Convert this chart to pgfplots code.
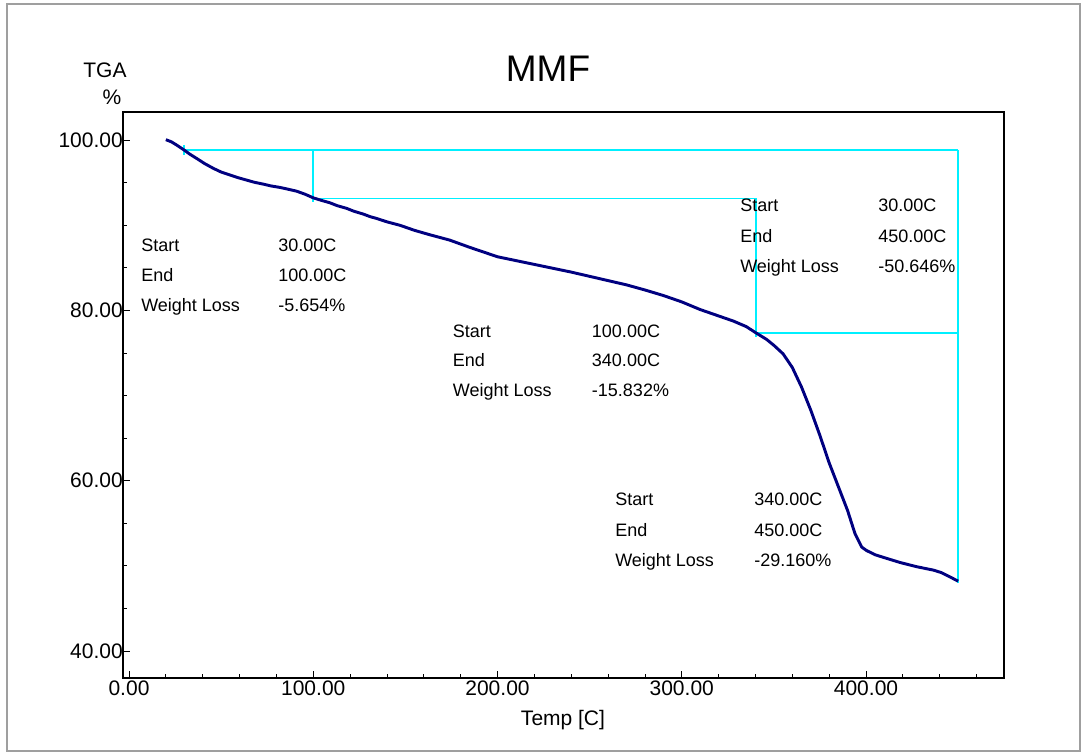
\documentclass[border=0pt]{standalone}
\usepackage{pgfplots}
\pgfplotsset{compat=1.18}
\usepackage{fontspec}
\setmainfont{Liberation Sans}
\definecolor{curve}{RGB}{0,0,128}
\definecolor{cyn}{RGB}{0,240,255}
\newcommand\fa{\fontsize{13.5}{16}\selectfont}
\newcommand\fb{\fontsize{15.75}{18}\selectfont}
\newcommand\ft{\fontsize{27.75}{32}\selectfont}
\begin{document}
\begin{tikzpicture}
\begin{scope}[x=0.75pt,y=-0.75pt]
\path[use as bounding box] (0,0) rectangle (1086,753);
\draw[gray!75, line width=1.5pt] (7,4) rectangle (1080,751);
\end{scope}
\begin{axis}[
  at={(92.25pt,-508.5pt)}, anchor=south west,
  scale only axis, width=660.75pt, height=424.5pt,
  xmin=-3.26, xmax=474.9, ymin=36.83, ymax=103.3,
  axis line style={black, line width=0.8pt},
  tick align=inside,
  xtick={0,100,200,300,400}, xticklabels={0.00,100.00,200.00,300.00,400.00},
  ytick={40,60,80,100}, yticklabels={40.00,60.00,80.00,100.00},
  minor xtick={20,40,...,460}, minor ytick={40,45,...,100},
  xtick pos=bottom, ytick pos=left,
  major tick length=5.25pt, minor tick length=3pt,
  tick style={black, line width=0.6pt},
  ticklabel style={font=\fb},
  yticklabel style={inner xsep=0pt},
  xticklabel style={inner ysep=2pt},
  clip=false,
]
\addplot[draw=cyn, line width=1pt] coordinates {(30,98.82) (450,98.82)};
\addplot[draw=cyn, line width=1.3pt] coordinates {(450,98.82) (450,47.99)};
\addplot[draw=cyn, line width=1.3pt] coordinates {(30,99.41) (30,98.24)};
\addplot[draw=cyn, line width=1.3pt] coordinates {(100,98.82) (100,92.76)};
\addplot[draw=cyn, line width=1pt] coordinates {(100,93.17) (340,93.17)};
\addplot[draw=cyn, line width=1.6pt] coordinates {(340.3,93.17) (340.3,76.87)};
\addplot[draw=cyn, line width=1pt] coordinates {(340,77.33) (450,77.33)};
\addplot[curve, line width=2.2pt, line join=round] coordinates {
(20.0,100.05) (23,99.8) (26,99.4) (30,98.82) (33,98.35) (36.7,97.85)
(41,97.25) (45.8,96.68) (50,96.25) (54.8,95.9) (59,95.6) (63.9,95.3)
(68,95.05) (72.9,94.83) (77,94.62) (82,94.44) (86,94.25) (91,94.0)
(95.5,93.65) (100,93.22) (104,92.95) (109,92.64) (113,92.3) (118.2,91.98)
(122,91.65) (127.2,91.31) (131,91.0) (134.4,90.8) (140,90.4) (147,90.0)
(155,89.4) (163,88.9) (174,88.26) (185,87.4) (200,86.3) (210,85.85)
(220,85.4) (230,84.95) (240,84.5) (250,84.0) (260,83.5) (270,83.0)
(280,82.4) (290,81.75) (300,81.0) (310,80.1) (320,79.35) (328,78.75)
(335,78.1) (340,77.4) (346,76.6) (350,75.9) (355,74.9) (360,73.3)
(365,71.0) (370,68.3) (375,65.3) (380,62.1) (385,59.3) (390,56.5)
(394,53.8) (397.7,52.2) (400.3,51.8) (405,51.3) (409.4,51.0)
(418.4,50.4) (427.5,49.9) (436.6,49.5) (441,49.2) (445.6,48.7) (450,48.2)
};
\end{axis}
\begin{scope}[x=0.75pt,y=-0.75pt]
\node[anchor=base, inner sep=0pt, font=\ft] at (548,81) {MMF};
\node[anchor=base, inner sep=0pt, font=\fb] at (105,77.5) {TGA};
\node[anchor=base, inner sep=0pt, font=\fb] at (112,104.5) {\%};
\node[anchor=base, inner sep=0pt, font=\fb] at (563,725.5) {Temp [C]};
% block 1
\node[anchor=base west, inner sep=0pt, font=\fa] at (141,251.5) {Start};
\node[anchor=base west, inner sep=0pt, font=\fa] at (141,281.5) {End};
\node[anchor=base west, inner sep=0pt, font=\fa] at (141,311.5) {Weight Loss};
\node[anchor=base west, inner sep=0pt, font=\fa] at (278,251.5) {30.00C};
\node[anchor=base west, inner sep=0pt, font=\fa] at (278,281.5) {100.00C};
\node[anchor=base west, inner sep=0pt, font=\fa] at (278,311.5) {-5.654\%};
% block 2
\node[anchor=base west, inner sep=0pt, font=\fa] at (452.7,337) {Start};
\node[anchor=base west, inner sep=0pt, font=\fa] at (452.7,366.5) {End};
\node[anchor=base west, inner sep=0pt, font=\fa] at (452.7,396.5) {Weight Loss};
\node[anchor=base west, inner sep=0pt, font=\fa] at (591.7,337) {100.00C};
\node[anchor=base west, inner sep=0pt, font=\fa] at (591.7,366.5) {340.00C};
\node[anchor=base west, inner sep=0pt, font=\fa] at (591.7,396.5) {-15.832\%};
% block 3
\node[anchor=base west, inner sep=0pt, font=\fa] at (740,211.5) {Start};
\node[anchor=base west, inner sep=0pt, font=\fa] at (740,242.5) {End};
\node[anchor=base west, inner sep=0pt, font=\fa] at (740,272.5) {Weight Loss};
\node[anchor=base west, inner sep=0pt, font=\fa] at (878,211.5) {30.00C};
\node[anchor=base west, inner sep=0pt, font=\fa] at (878,242.5) {450.00C};
\node[anchor=base west, inner sep=0pt, font=\fa] at (878,272.5) {-50.646\%};
% block 4
\node[anchor=base west, inner sep=0pt, font=\fa] at (615,505) {Start};
\node[anchor=base west, inner sep=0pt, font=\fa] at (615,536) {End};
\node[anchor=base west, inner sep=0pt, font=\fa] at (615,566) {Weight Loss};
\node[anchor=base west, inner sep=0pt, font=\fa] at (754,505) {340.00C};
\node[anchor=base west, inner sep=0pt, font=\fa] at (754,536) {450.00C};
\node[anchor=base west, inner sep=0pt, font=\fa] at (754,566) {-29.160\%};
\end{scope}
\end{tikzpicture}
\end{document}
